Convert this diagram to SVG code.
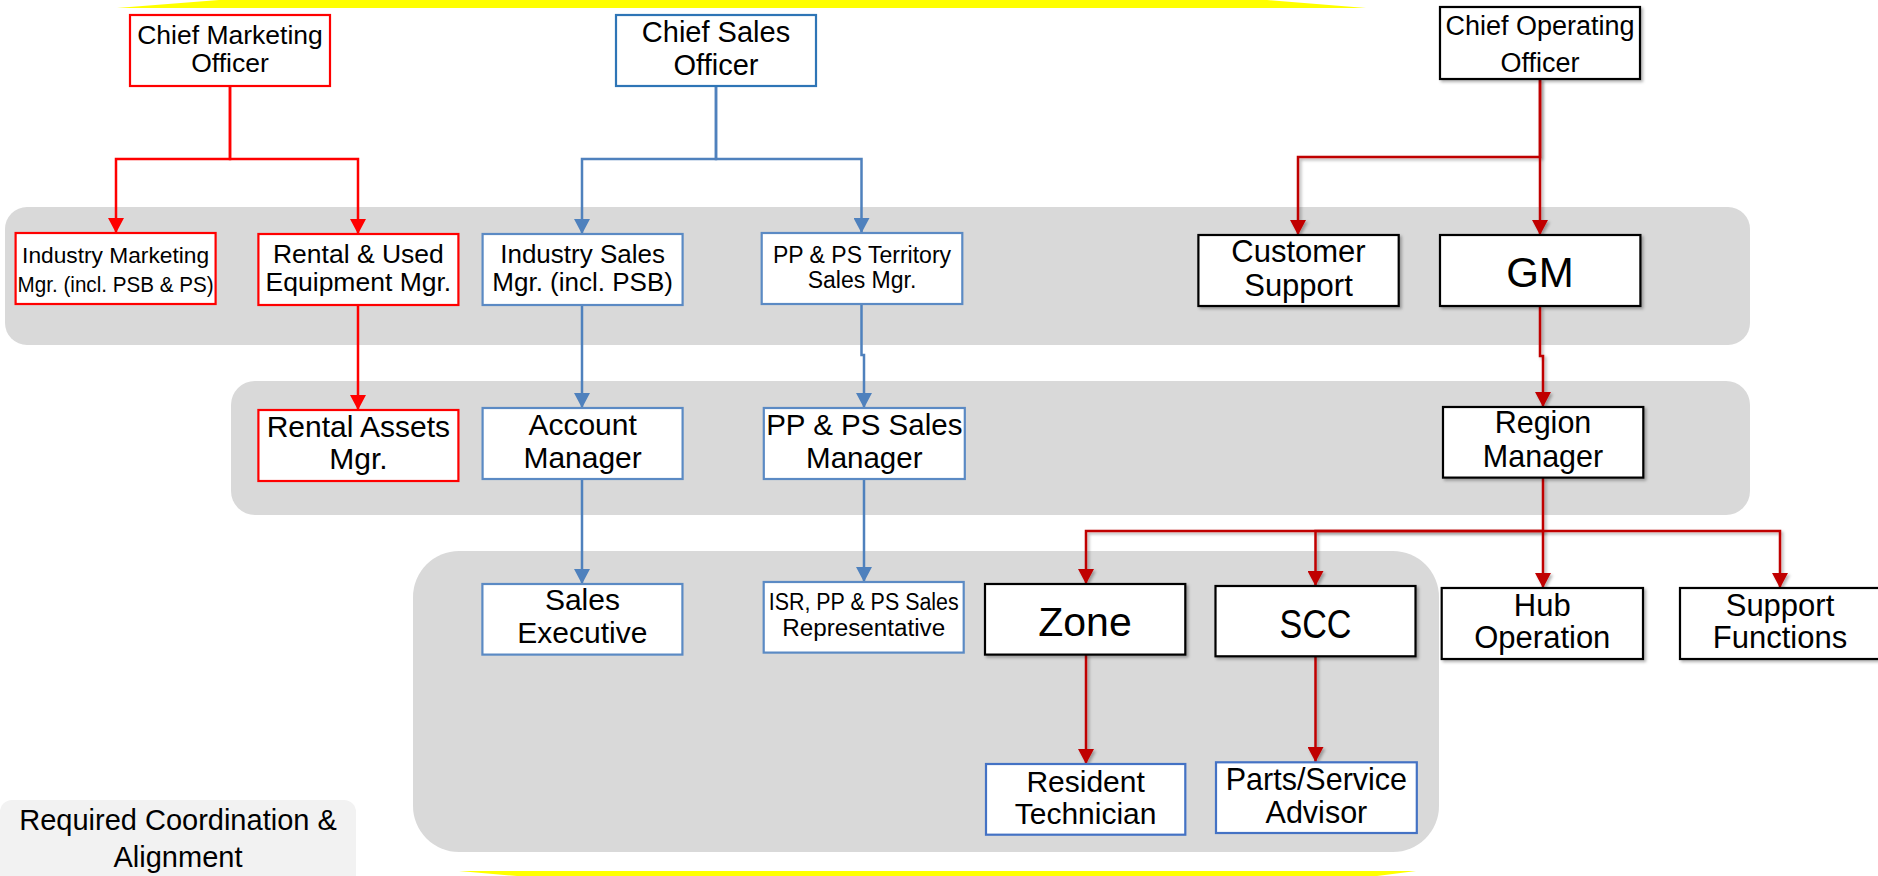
<svg xmlns="http://www.w3.org/2000/svg" width="1878" height="876" viewBox="0 0 1878 876">
<style>
text{font-family:"Liberation Sans",Arial,sans-serif;fill:#000;text-anchor:middle}
.band{fill:#d9d9d9}
.box{fill:#fff;stroke-width:2.2}
.red{stroke:#ff0000}
.blue1{stroke:#2e75b6}
.blue2{stroke:#5b8ac4}
.blue3{stroke:#4472c4}
.blk{stroke:#000;filter:url(#sh)}
.c{fill:none;stroke-width:2.5}
.cr{stroke:#ff0000}
.cb{stroke:#4f81bd}
.cd{stroke:#c00000;filter:url(#sh)}
</style>
<defs>
<filter id="sh" filterUnits="userSpaceOnUse" x="0" y="0" width="1878" height="876">
<feDropShadow dx="2" dy="2" stdDeviation="1.5" flood-color="#000" flood-opacity="0.3"/>
</filter>
<marker id="ar" markerUnits="userSpaceOnUse" markerWidth="16" markerHeight="16" refX="15" refY="8" orient="auto"><path d="M0,0 L15,8 L0,16 z" fill="#ff0000"/></marker>
<marker id="ab" markerUnits="userSpaceOnUse" markerWidth="16" markerHeight="16" refX="15" refY="8" orient="auto"><path d="M0,0 L15,8 L0,16 z" fill="#4f81bd"/></marker>
<marker id="ad" markerUnits="userSpaceOnUse" markerWidth="16" markerHeight="16" refX="15" refY="8" orient="auto"><path d="M0,0 L15,8 L0,16 z" fill="#c00000"/></marker>
</defs>

<g id="background">
<polygon points="117,8 219,0 1267,0 1366,8" fill="#ffff00"/>
<polygon points="459,871 1416,871 1377,876 517,876" fill="#ffff00"/>
<rect class="band" x="5" y="207" width="1745" height="138" rx="22"/>
<rect class="band" x="231" y="381" width="1519" height="134" rx="24"/>
<rect class="band" x="413" y="551" width="1026" height="301" rx="46"/>
</g>

<g id="connectors">
<path class="c cr" d="M230,86 V159 H116 V233" marker-end="url(#ar)"/>
<path class="c cr" d="M230,86 V159 H358 V234" marker-end="url(#ar)"/>
<path class="c cr" d="M358,305 V410" marker-end="url(#ar)"/>
<path class="c cb" d="M716,86 V159 H582 V234" marker-end="url(#ab)"/>
<path class="c cb" d="M716,86 V159 H861.5 V233" marker-end="url(#ab)"/>
<path class="c cb" d="M582,305 V408" marker-end="url(#ab)"/>
<path class="c cb" d="M861.5,304 V355 H864 V408" marker-end="url(#ab)"/>
<path class="c cb" d="M582,479 V584" marker-end="url(#ab)"/>
<path class="c cb" d="M864,479 V582" marker-end="url(#ab)"/>
<path class="c cd" d="M1540,79 V157 H1298 V235" marker-end="url(#ad)"/>
<path class="c cd" d="M1540,79 V235" marker-end="url(#ad)"/>
<path class="c cd" d="M1540,306 V356 H1543 V407" marker-end="url(#ad)"/>
<path class="c cd" d="M1543,477 V531 H1086 V584" marker-end="url(#ad)"/>
<path class="c cd" d="M1543,531 H1315.5 V586" marker-end="url(#ad)"/>
<path class="c cd" d="M1543,531 V588" marker-end="url(#ad)"/>
<path class="c cd" d="M1543,531 H1780 V588" marker-end="url(#ad)"/>
<path class="c cd" d="M1086,654 V764" marker-end="url(#ad)"/>
<path class="c cd" d="M1315.5,656 V762" marker-end="url(#ad)"/>
</g>

<g id="cmo"><rect class="box red" x="130" y="15" width="200" height="71"/>
<text font-size="26.5"><tspan x="230" y="44">Chief Marketing</tspan><tspan x="230" y="72">Officer</tspan></text></g>
<g id="cso"><rect class="box blue1" x="616" y="15" width="200" height="71"/>
<text font-size="29"><tspan x="716" y="41.5">Chief Sales</tspan><tspan x="716" y="75">Officer</tspan></text></g>
<g id="coo"><rect class="box blk" x="1440" y="7" width="200" height="72"/>
<text font-size="27"><tspan x="1540" y="35">Chief Operating</tspan><tspan x="1540" y="71.5">Officer</tspan></text></g>

<g id="industry-marketing"><rect class="box red" x="15.6" y="233" width="200" height="71"/>
<text font-size="22"><tspan x="115.6" y="263" textLength="187" lengthAdjust="spacingAndGlyphs">Industry Marketing</tspan><tspan x="115.6" y="291.5" textLength="196" lengthAdjust="spacingAndGlyphs">Mgr. (incl. PSB &amp; PS)</tspan></text></g>
<g id="rental-used"><rect class="box red" x="258.4" y="234" width="200" height="71"/>
<text font-size="26.5"><tspan x="358.4" y="262.7">Rental &amp; Used</tspan><tspan x="358.4" y="290.7">Equipment Mgr.</tspan></text></g>
<g id="industry-sales"><rect class="box blue2" x="482.6" y="234" width="200" height="71"/>
<text font-size="26"><tspan x="582.6" y="262.7">Industry Sales</tspan><tspan x="582.6" y="290.7">Mgr. (incl. PSB)</tspan></text></g>
<g id="pp-territory"><rect class="box blue2" x="761.7" y="233" width="200.6" height="71"/>
<text font-size="23"><tspan x="862" y="263.3">PP &amp; PS Territory</tspan><tspan x="862" y="288.3">Sales Mgr.</tspan></text></g>
<g id="customer-support"><rect class="box blk" x="1198.4" y="235" width="200.3" height="71"/>
<text font-size="31"><tspan x="1298.5" y="261.7">Customer</tspan><tspan x="1298.5" y="295.7">Support</tspan></text></g>
<g id="gm"><rect class="box blk" x="1440" y="235" width="200.4" height="71"/>
<text font-size="42" x="1540" y="286.7">GM</text></g>

<g id="rental-assets"><rect class="box red" x="258.4" y="410" width="200" height="71"/>
<text font-size="30"><tspan x="358.4" y="436.7">Rental Assets</tspan><tspan x="358.4" y="469.3">Mgr.</tspan></text></g>
<g id="account-manager"><rect class="box blue2" x="482.6" y="408" width="200" height="71"/>
<text font-size="30"><tspan x="582.6" y="435">Account</tspan><tspan x="582.6" y="468.3">Manager</tspan></text></g>
<g id="pp-sales-manager"><rect class="box blue2" x="763.8" y="408" width="201" height="71"/>
<text font-size="29.5"><tspan x="864.3" y="435">PP &amp; PS Sales</tspan><tspan x="864.3" y="468.3">Manager</tspan></text></g>
<g id="region-manager"><rect class="box blk" x="1443" y="407" width="200.3" height="70.6"/>
<text font-size="30.5"><tspan x="1543" y="433.3">Region</tspan><tspan x="1543" y="466.7">Manager</tspan></text></g>

<g id="sales-executive"><rect class="box blue2" x="482.4" y="584" width="200" height="70.6"/>
<text font-size="30"><tspan x="582.4" y="610">Sales</tspan><tspan x="582.4" y="643.3">Executive</tspan></text></g>
<g id="isr"><rect class="box blue2" x="763.7" y="582" width="200" height="70.6"/>
<text font-size="23"><tspan x="863.7" y="610" textLength="190" lengthAdjust="spacingAndGlyphs">ISR, PP &amp; PS Sales</tspan><tspan x="863.7" y="636" textLength="163" lengthAdjust="spacingAndGlyphs">Representative</tspan></text></g>
<g id="zone"><rect class="box blk" x="985" y="584" width="200.3" height="70.6"/>
<text font-size="41" x="1085" y="636">Zone</text></g>
<g id="scc"><rect class="box blk" x="1215.5" y="586" width="200" height="70.3"/>
<text font-size="41" x="1315.5" y="637.7" textLength="72" lengthAdjust="spacingAndGlyphs">SCC</text></g>
<g id="hub-operation"><rect class="box blk" x="1441.7" y="588" width="201.3" height="71"/>
<text font-size="31"><tspan x="1542.3" y="615.7">Hub</tspan><tspan x="1542.3" y="648.3">Operation</tspan></text></g>
<g id="support-functions"><rect class="box blk" x="1680" y="588" width="200" height="71"/>
<text font-size="31"><tspan x="1780" y="615.7">Support</tspan><tspan x="1780" y="648.3">Functions</tspan></text></g>

<g id="resident-technician"><rect class="box blue3" x="986" y="764" width="199.3" height="70.7"/>
<text font-size="30"><tspan x="1085.6" y="792.3">Resident</tspan><tspan x="1085.6" y="824.3">Technician</tspan></text></g>
<g id="parts-service"><rect class="box blue3" x="1216" y="762.3" width="200.8" height="70.7"/>
<text font-size="30.5"><tspan x="1316.4" y="790">Parts/Service</tspan><tspan x="1316.4" y="822.7">Advisor</tspan></text></g>

<g id="legend"><rect x="0" y="800" width="356" height="90" rx="12" fill="#f2f2f2"/>
<text font-size="29"><tspan x="178" y="830">Required Coordination &amp;</tspan><tspan x="178" y="867">Alignment</tspan></text></g>
</svg>
